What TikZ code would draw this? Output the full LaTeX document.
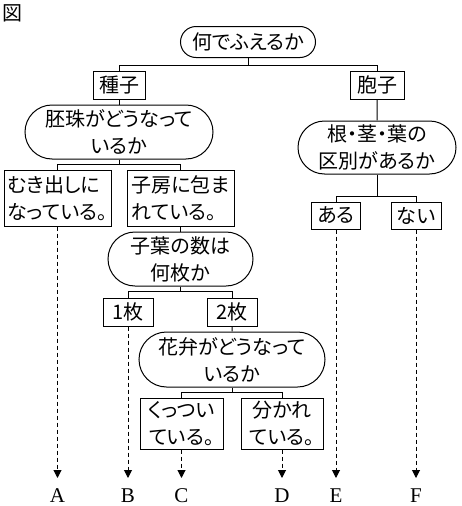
\documentclass[tikz,border=0pt]{standalone}
\usepackage{fontspec}
\setmainfont[RawFeature=+palt]{Noto Sans CJK JP}
\newfontfamily\lblfont{Liberation Serif}
\usepackage{tikz}
\usetikzlibrary{positioning}
\usetikzlibrary{shapes.misc, arrows.meta}

\begin{document}
\begin{tikzpicture}[x=1pt, y=-1pt,
    font=\fontsize{20}{27}\selectfont,
    line width=1pt,
       qbox/.style = {draw, rounded rectangle, inner sep=0pt, align=center},% question nodes
       abox/.style = {draw, rectangle, inner sep=0pt, align=center},% answer nodes
       lbl/.style = {inner sep=0pt, anchor=north, font=\lblfont\fontsize{21}{21}\selectfont},
       dasharrow/.style = {dash pattern=on 4pt off 3pt, -{Triangle[width=8pt,length=8pt]}, shorten >=10pt}
    ]
    \useasboundingbox (0,0) rectangle (462,506);
    \node (zu) at (12,13) {図};
    % top question
    \node (fueru) [qbox, minimum width=135pt, minimum height=31pt] at (248,42) {何でふえるか};
    \node (shushi) [abox, minimum width=52pt, minimum height=28pt] at (119,85) {種子};
    \node (houshi) [abox, minimum width=54pt, minimum height=28pt] at (377,85) {胞子};
    \draw (fueru.south) -- ++(0,7) -| (shushi.north);
    \draw (fueru.south) -- ++(0,7) -| (houshi.north);
    % seed side
    \node (haishu) [qbox, minimum width=188pt, minimum height=54pt] at (119,132) {胚珠がどうなって\\いるか};
    \draw (shushi) -- (haishu);
    \node (mukidashi) [abox, align=left, minimum width=107pt, minimum height=56pt] at (57.5,198) {むき出しに\\なっている。};
    \node (shibou) [abox, align=left, minimum width=107pt, minimum height=56pt] at (180.5,198) {子房に包ま\\れている。};
    \draw (haishu.south) -- ++(0,5) -| (mukidashi.north);
    \draw (haishu.south) -- ++(0,5) -| (shibou.north);
    \node (shiyou) [qbox, minimum width=145pt, minimum height=54pt] at (180.5,259) {子葉の数は\\何枚か};
    \draw (shibou) -- (shiyou);
    \node (ichimai) [abox, minimum width=50pt, minimum height=28pt] at (128,312) {1枚};
    \node (nimai) [abox, minimum width=50pt, minimum height=28pt] at (232,312) {2枚};
    \draw (shiyou.south) -- ++(0,5) -| (ichimai.north);
    \draw (shiyou.south) -- ++(0,5) -| (nimai.north);
    \node (kaben) [qbox, minimum width=186pt, minimum height=55pt] at (232,359.5) {花弁がどうなって\\いるか};
    \draw (nimai) -- (kaben);
    \node (kuttsuku) [abox, minimum width=83pt, minimum height=51pt] at (181.5,423.5) {くっつい\\ている。};
    \node (wakare) [abox, minimum width=82pt, minimum height=51pt] at (282,423.5) {分かれ\\ている。};
    \draw (kaben.south) -- ++(0,5) -| (kuttsuku.north);
    \draw (kaben.south) -- ++(0,5) -| (wakare.north);
    % spore side
    \node (kubetsu) [qbox, minimum width=158pt, minimum height=53pt] at (377,147.5) {根・茎・葉の\\区別があるか};
    \draw (houshi) -- (kubetsu);
    \node (aru) [abox, minimum width=49pt, minimum height=27pt] at (336,215.5) {ある};
    \node (nai) [abox, minimum width=50pt, minimum height=27pt] at (416,215.5) {ない};
    \draw (kubetsu.south) -- ++(0,22) -| (aru.north);
    \draw (kubetsu.south) -- ++(0,22) -| (nai.north);
    % groups
    \node (lA) [lbl] at (57.5,488) {A};
    \node (lB) [lbl] at (128,488) {B};
    \node (lC) [lbl] at (181.5,488) {C};
    \node (lD) [lbl] at (282,488) {D};
    \node (lE) [lbl] at (336,488) {E};
    \node (lF) [lbl] at (416,488) {F};
    \draw[dasharrow] (mukidashi) -- (lA);
    \draw[dasharrow] (ichimai) -- (lB);
    \draw[dasharrow] (kuttsuku) -- (lC);
    \draw[dasharrow] (wakare) -- (lD);
    \draw[dasharrow] (aru) -- (lE);
    \draw[dasharrow] (nai) -- (lF);
\end{tikzpicture}
\end{document}
